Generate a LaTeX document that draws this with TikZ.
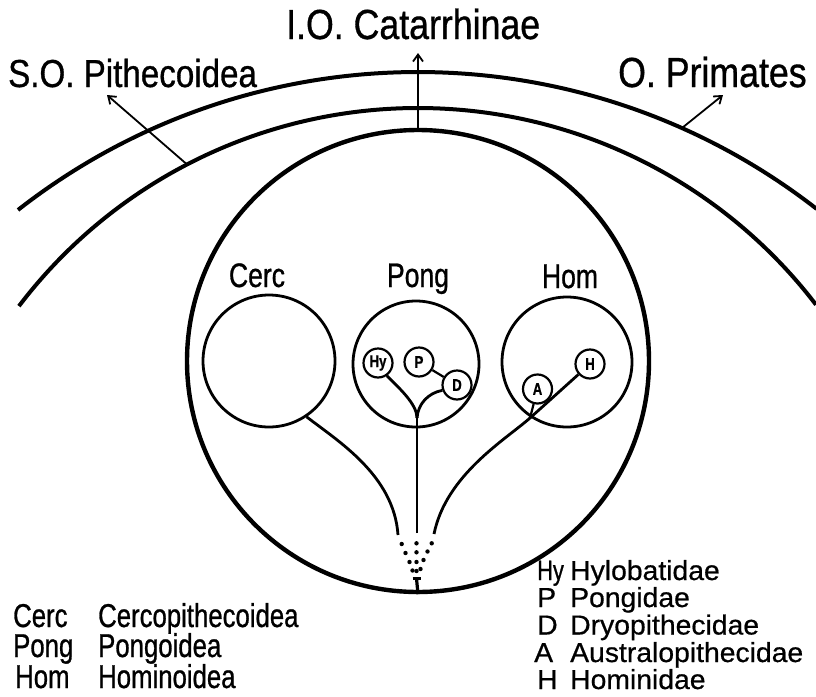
\documentclass[tikz,border=0pt]{standalone}
\usepackage{fontspec}
\setmainfont{Liberation Sans}
\newfontfamily\condfont{Liberation Sans}[FakeStretch=0.85,FakeBold=0.8]
\newfontfamily\narrowfont{Liberation Sans}[FakeStretch=0.78,FakeBold=0.8]
\newfontfamily\legfont{Liberation Sans}[FakeStretch=1.03,FakeBold=0.6]
\usetikzlibrary{arrows.meta,calc}
\begin{document}
\begin{tikzpicture}[x=1pt,y=-1pt,
  arcline/.style={line width=4pt},
  bigring/.style={circle,draw,line width=4.4pt,minimum size=462pt,inner sep=0pt},
  grp/.style={circle,draw,line width=2.8pt,inner sep=0pt},
  fam/.style={circle,draw,line width=2.2pt,inner sep=0pt,minimum size=29pt,
     font=\narrowfont\bfseries\fontsize{17}{17}\selectfont},
  branch/.style={line width=2.8pt},
  ptr/.style={line width=1.8pt,-{Straight Barb[length=7pt,width=10pt]}},
  title/.style={inner sep=0pt,anchor=base west},
  grplabel/.style={inner sep=0pt,anchor=base,font=\narrowfont\fontsize{34}{34}\selectfont},
  legL/.style={inner sep=0pt,anchor=base west,font=\narrowfont\fontsize{33}{33}\selectfont},
  legK/.style={inner sep=0pt,anchor=base west,font=\narrowfont\fontsize{28}{28}\selectfont},
  legR/.style={inner sep=0pt,anchor=base west,font=\legfont\fontsize{27.5}{27.5}\selectfont}
]
\useasboundingbox (0,0) rectangle (816,696);

% outer and middle arcs
\draw[arcline] ([shift={(-128.05:649)}]418,721) arc[start angle=-128.05,end angle=-52.1,radius=649];
\draw[arcline] ([shift={(-142.8:501)}]418,609) arc[start angle=-142.8,end angle=-37.4,radius=501];

% big circle
\node[bigring] (catar) at (418,361) {};

% titles
\node[title,font=\condfont\fontsize{39}{39}\selectfont] (so) at (8,87) {S.O. Pithecoidea};
\node[title,font=\condfont\fontsize{42}{42}\selectfont] (io) at (286,39) {I.O. Catarrhinae};
\node[title,font=\condfont\fontsize{42}{42}\selectfont] (op) at (618,87) {O. Primates};

% arrows
\coordinate (so1) at (187,164.4);
\coordinate (so2) at (107,95);
\coordinate (op1) at (682,128);
\coordinate (op2) at (723,95);
\coordinate (io2) at (418,53);
\draw[ptr] (so1) -- (so2);
\draw[ptr] (op1) -- (op2);
\draw[ptr] (catar.north) -- (io2);

% group circles
\node[grp,minimum size=132pt] (cerc) at (269,361) {};
\node[grp,minimum size=126pt] (pong) at (416,364) {};
\node[grp,minimum size=130pt] (hom) at (567,362) {};
\node[grplabel] (lcerc) at (257,287) {Cerc};
\node[grplabel] (lpong) at (418,287) {Pong};
\node[grplabel] (lhom) at (570,288) {Hom};

% family circles
\node[fam] (hy) at (378,363) {Hy};
\node[fam] (p) at (419,362) {P};
\node[fam] (d) at (457,385) {D};
\node[fam] (a) at (537.5,389) {A};
\node[fam] (h) at (590,364) {H};

% branches
\coordinate (lb) at (398,535);
\coordinate (tb) at (417,533);
\coordinate (rb) at (434,534);
\coordinate (bp) at (417,418);
\coordinate (hj) at (530,418);
\draw[branch] (tb) -- (bp);
\draw[branch] (bp) .. controls (417,404) and (399,388) .. (hy.-55);
\draw[branch] (bp) .. controls (418,404) and (428,393) .. (d.200);
\draw[branch,line width=2.2pt] (p) -- (d);
\draw[branch] (lb) .. controls (394,475) and (337,440.5) .. (cerc.-56);
\draw[branch] (rb) .. controls (446,475) and (505,440) .. (hj) -- (h);
\draw[branch,line width=2.2pt] (hj) -- (a);

% dotted origin
\foreach \q in {(401.7,544),(405.5,553),(409.5,562),(412.5,570.5),
                (416.5,543.3),(416.5,552.3),(416.5,562),(416.5,571),
                (431.7,543.3),(427.5,551.5),(423.5,560),(420.5,569)}
  \fill \q circle[radius=2.2];
\coordinate (st) at (416.5,578.5);
\draw[line width=3.2pt] (st) -- (catar.south);
\draw[line width=2.8pt] (412.5,578.5) -- (420.5,578.5);

% legend left
\node[legL] (k1) at (13,627) {Cerc};
\node[legL] (v1) at (98,627) {Cercopithecoidea};
\node[legL] (k2) at (13,657) {Pong};
\node[legL] (v2) at (98,657) {Pongoidea};
\node[legL] (k3) at (15,688) {Hom};
\node[legL] (v3) at (98,688) {Hominoidea};

% legend right
\node[legK] (r1) at (537,580) {Hy};
\node[legR] (s1) at (570,580) {Hylobatidae};
\node[legR] (r2) at (537,607) {P};
\node[legR] (s2) at (570,607) {Pongidae};
\node[legR] (r3) at (537,634.5) {D};
\node[legR] (s3) at (570,634.5) {Dryopithecidae};
\node[legR] (r4) at (534,662) {A};
\node[legR] (s4) at (570,662) {Australopithecidae};
\node[legR] (r5) at (537,689) {H};
\node[legR] (s5) at (570,689) {Hominidae};
\end{tikzpicture}
\end{document}
